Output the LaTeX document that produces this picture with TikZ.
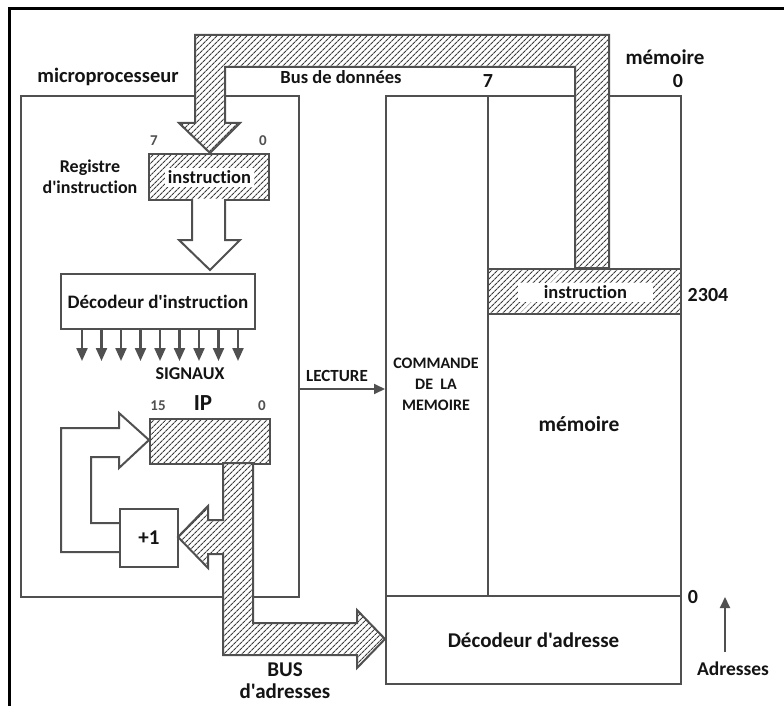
\documentclass[tikz,border=0pt]{standalone}
\usepackage{fontspec}
\setmainfont{Carlito}[Ligatures={TeXOff,CommonOff,ContextualOff}]
\usetikzlibrary{patterns.meta,arrows.meta}
\definecolor{lc}{RGB}{80,80,80}
\definecolor{hc}{RGB}{60,60,60}
\definecolor{tc}{RGB}{20,20,20}
\newcommand{\fsz}[2]{\fontsize{#1}{#2}\selectfont}
\begin{document}
\begin{tikzpicture}[x=1pt,y=-1pt,
 box/.style={draw=lc,line width=2pt,fill=white,inner sep=0pt},
 hatch/.style={preaction={fill=white},pattern={Lines[angle=45,distance=4pt,line width=1.1pt]},pattern color=hc},
 hout/.style={draw=lc,line width=2pt,line join=miter},
 txt/.style={text=tc,inner sep=0pt,align=center},
 gtxt/.style={text=lc,inner sep=0pt,font=\bfseries\fsz{15}{18}},
 wlabel/.style={fill=white,inner sep=0pt,text=tc,font=\bfseries\fsz{18.5}{22}},
 arr/.style={draw=lc,line width=2pt,-{Triangle[length=11pt,width=10pt]}},
 sarr/.style={draw=lc,line width=2.2pt,-{Triangle[length=13pt,width=11pt]}},
]
\useasboundingbox (0,0) rectangle (784,706);
\fill[white] (0,0) rectangle (784,706);
% frame
\draw[black,line width=3pt] (9,706) -- (9,9) -- (784,9);

% microprocessor box
\node[box,anchor=north west,minimum width=278pt,minimum height=501pt] (mp) at (20,95) {};
\node[txt,font=\bfseries\fsz{20.5}{24}] (mplabel) at (108,77) {microprocesseur};

% memory
\node[box,anchor=north west,minimum width=102pt,minimum height=500pt] (cmd) at (385,95) {};
\node[box,anchor=north west,minimum width=193pt,minimum height=500pt] (mem) at (487,95) {};
\node[box,anchor=north west,minimum width=295pt,minimum height=88pt,font=\bfseries\fsz{21}{24},text=tc] (adec) at (385,595) {Décodeur d'adresse};
\node[box,hatch,anchor=north west,minimum width=193pt,minimum height=45pt] (mcell) at (487,268) {};
\node[wlabel,minimum width=135pt,minimum height=19pt] (minstr) at (585.5,292.5) {instruction};

% data bus
\draw[hout,hatch] (195,123) -- (195,35) -- (609,35) -- (609,268) -- (575,268) -- (575,67) -- (225,67) -- (225,123) -- (240,123) -- (210,153) -- (179,123) -- cycle;
\node[txt,font=\bfseries\fsz{18.5}{22}] (dbus) at (341,77) {Bus de données};
\node[txt,font=\bfseries\fsz{21}{24}] (memtop) at (665,57) {mémoire};
\node[txt,font=\bfseries\fsz{20}{24}] (m7) at (488,81) {7};
\node[txt,font=\bfseries\fsz{20}{24}] (m0) at (678,81) {0};

% instruction register
\node[box,hatch,anchor=north west,minimum width=120pt,minimum height=46pt] (reg) at (148,153) {};
\node[wlabel,minimum width=89pt,minimum height=19pt] (rinstr) at (209.5,177.5) {instruction};
\node[gtxt] (r7) at (154,141) {7};
\node[gtxt] (r0) at (263,141) {0};
\node[txt,font=\bfseries\fsz{18}{21}] (reglabel) at (90,177) {Registre\\d'instruction};

% hollow arrow register -> decoder
\draw[hout,fill=white] (192,199) -- (192,240) -- (179,240) -- (210,270) -- (240,240) -- (225,240) -- (225,199);

% instruction decoder
\node[box,anchor=north west,minimum width=194pt,minimum height=55pt,font=\bfseries\fsz{19}{22},text=tc] (idec) at (60,273) {Décodeur d'instruction};
\foreach \x in {82,101.5,121,140.5,160,179.5,199,218.5,238}
  \draw[sarr] (idec.south -| \x,0) -- (\x,361);
\node[txt,font=\bfseries\fsz{18}{22}] (sig) at (190,374) {SIGNAUX};

% LECTURE
\coordinate (ly) at (0,389);
\draw[arr] (mp.east |- ly) -- (cmd.west |- ly);
\node[txt,font=\bfseries\fsz{17}{20}] (lect) at (337,376) {LECTURE};

% memory texts
\node[txt,font=\bfseries\fsz{16}{21}] (cmdlabel) at (436,384) {COMMANDE\\DE\ \ LA\\MEMOIRE};
\node[txt,font=\bfseries\fsz{21.5}{24}] (memlabel) at (579,424) {mémoire};
\node[txt,font=\bfseries\fsz{20}{24}] (a2304) at (708,295) {2304};
\node[txt,font=\bfseries\fsz{20}{24}] (a0) at (693,597) {0};
\coordinate (up0) at (725,652);
\coordinate (up1) at (725,597);
\draw[arr] (up0) -- (up1);
\node[txt,font=\bfseries\fsz{19.5}{24}] (adr) at (733,669) {Adresses};

% IP register
\node[box,hatch,anchor=north west,minimum width=120pt,minimum height=45pt] (ip) at (149,418) {};
\node[txt,font=\bfseries\fsz{23}{26}] (iplabel) at (203,403) {IP};
\node[gtxt] (ip15) at (158,406) {15};
\node[gtxt] (ip0) at (262,406) {0};

% +1 box
\node[box,anchor=north west,minimum width=58pt,minimum height=58pt,font=\bfseries\fsz{21}{24},text=tc] (inc) at (119,508) {+1};

% address bus with branch to +1
\draw[hout,hatch] (253,463) -- (223,463) -- (223,520) -- (208,520) -- (208,506) -- (178,537) -- (208,568) -- (208,554) -- (223,554) -- (223,655) -- (357,655) -- (357,668) -- (385,639) -- (357,610) -- (357,623) -- (253,623) -- cycle;
\node[txt,font=\bfseries\fsz{21}{22}] (abus) at (285,681) {BUS\\d'adresses};

% feedback hollow arrow +1 -> IP
\draw[hout] (119,552) -- (61,552) -- (61,428) -- (119,428) -- (119,413) -- (149,440) -- (119,468) -- (119,457) -- (91,457) -- (91,523) -- (119,523);
\end{tikzpicture}
\end{document}
